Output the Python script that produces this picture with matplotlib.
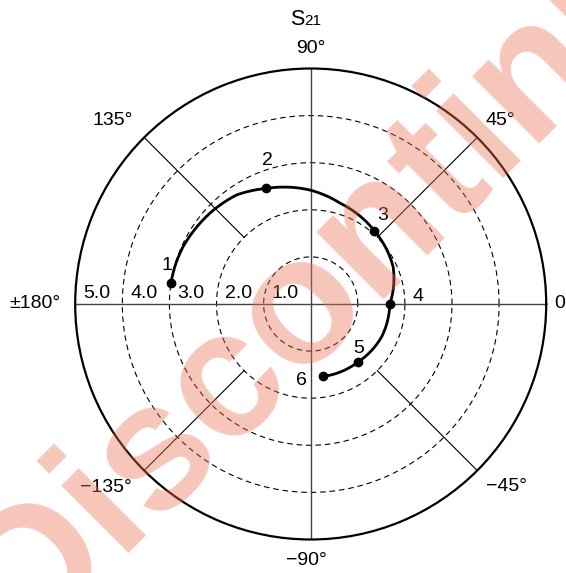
import numpy as np
import matplotlib
matplotlib.use("Agg")
import matplotlib.pyplot as plt

plt.rcParams['font.family'] = ['Liberation Sans', 'DejaVu Sans']

# ---- data (angle in degrees, magnitude) ----
curve_deg = [171.6, 163.5, 155.8, 136.0, 124.2, 111.1, 90.4, 73.8, 48.9, 24.3, 0.0, -24.7, -51.1, -80.6]
curve_mag = [3.00, 2.99, 2.97, 2.87, 2.80, 2.63, 2.42, 2.23, 2.06, 1.92, 1.68, 1.66, 1.59, 1.56]
point_deg = [171.6, 111.1, 48.9, 0.0, -51.1, -80.6]
point_mag = [3.00, 2.63, 2.06, 1.68, 1.59, 1.56]
point_labels = ['1', '2', '3', '4', '5', '6']
ring_values = [1, 2, 3, 4, 5]
ring_labels = ['1.0', '2.0', '3.0', '4.0', '5.0']
angle_ticks = [90, 45, 135, 180, 0, -135, -45, -90]
angle_labels = ['90°', '45°', '135°', '±180°', '0', '−135°', '−45°', '−90°']
title_main = 'S'
title_sub = '21'
watermark = 'Discontinued'

# ---- layout ----
W, H = 566, 573
fig = plt.figure(figsize=(W / 100, H / 100), dpi=100)
cx, cy, R = 310.7, 304.0, 235.5
ax = fig.add_axes([(cx - R) / W, (H - cy - R) / H, 2 * R / W, 2 * R / H], projection='polar')
ax.set_ylim(0, 5)
ax.grid(False)
ax.set_xticks([])
ax.set_yticks([])
ax.spines['polar'].set_linewidth(1.6)
ax.spines['polar'].set_color('black')

th = np.linspace(0, 2 * np.pi, 721)
for rv in ring_values[:-1]:
    ax.plot(th, np.full_like(th, rv), color='black', lw=0.8, ls=(0, (5, 3.5)), zorder=1)

# axes through center
for a in [0, 90, 180, 270]:
    ax.plot([np.deg2rad(a)] * 2, [0, 5], color='#444444', lw=1.0, zorder=1)
# diagonal spokes
for a in [45, 135, 225, 315]:
    ax.plot([np.deg2rad(a)] * 2, [2, 5], color='black', lw=0.8, zorder=1)

FS = 14
# radial labels
for rv, lab in zip(ring_values, ring_labels):
    ax.annotate(lab, xy=(np.pi, rv - 0.17), xytext=(0, 1.5), textcoords='offset points',
                ha='left', va='bottom', fontsize=FS, color='black')

# angle labels
label_pos = {90: (90.0, 5.42), 45: (44.0, 5.6), 135: (137.2, 5.72), 180: (180.0, 5.85),
             0: (0.0, 5.0), -135: (-138.2, 5.83), -45: (-43.1, 5.68), -90: (-91.0, 5.44)}
for a, lab in zip(angle_ticks, angle_labels):
    t, r = label_pos[a]
    if a == 0:
        ax.annotate(lab, xy=(0, 5), xytext=(6, 0), textcoords='offset points',
                    ha='left', va='center', fontsize=FS, annotation_clip=False)
    else:
        ax.text(np.deg2rad(t), r, lab, ha='center', va='center', fontsize=FS)

# curve & points
line, = ax.plot(np.deg2rad(curve_deg), curve_mag, color='black', lw=2.0, zorder=3,
                solid_capstyle='round')
line.get_path()._interpolation_steps = 40
ax.plot(np.deg2rad(point_deg), point_mag, 'o', color='black', ms=6, zorder=4)

offsets = [(-4, 18), (1.5, 28), (7.7, 15.5), (27.7, 7.3), (0.6, 14), (-21.7, -4)]
for d, m, lab, (ox, oy) in zip(point_deg, point_mag, point_labels, offsets):
    ax.annotate(lab, xy=(np.deg2rad(d), m), xytext=(ox * 0.72, oy * 0.72),
                textcoords='offset points', ha='center', va='center', fontsize=FS)

# title
fig.text(304 / W, 1 - 25 / H, title_main, ha='right', va='baseline', fontsize=15.5)
fig.text(304.5 / W, 1 - 25 / H, title_sub, ha='left', va='baseline', fontsize=11)

# watermark
ang = 45
em = 180
u = np.array([np.cos(np.deg2rad(ang)), -np.sin(np.deg2rad(ang))])
nrm = np.array([-np.sin(np.deg2rad(ang)), -np.cos(np.deg2rad(ang))])
start = np.array([300, 305]) - 2.418 * em * u - 0.26 * em * nrm
fig.text(start[0] / W, 1 - start[1] / H, watermark, rotation=ang, rotation_mode='anchor',
         ha='left', va='baseline', fontsize=em * 0.72, fontweight='bold',
         color=(237 / 255, 112 / 255, 85 / 255), alpha=0.4, zorder=10)

fig.savefig('out.png', dpi=100)
